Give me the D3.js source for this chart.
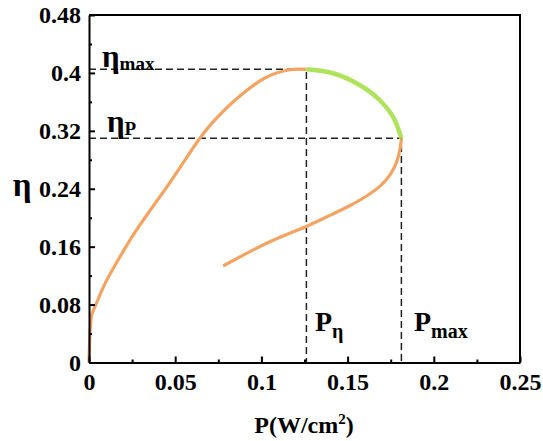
<!DOCTYPE html>
<html>
<head>
<meta charset="utf-8">
<script src="https://cdn.jsdelivr.net/npm/d3@7"></script>
<style>
  body { margin: 0; background: #fff; }
  text { font-family: "Liberation Serif", "Times New Roman", serif; font-weight: bold; }
</style>
</head>
<body>
<div id="chart"></div>
<script>
// efficiency vs power density
const upperP = [0, 0.0003, 0.0009, 0.0017, 0.0031, 0.0093, 0.0170, 0.0267, 0.0363, 0.0459, 0.0566, 0.0643, 0.0711, 0.0865, 0.1020, 0.1155, 0.1261];
const upperEta = [0, 0.024, 0.052, 0.067, 0.075, 0.109, 0.142, 0.180, 0.213, 0.245, 0.283, 0.3097, 0.330, 0.366, 0.393, 0.404, 0.405];
const greenP = [0.1261, 0.1415, 0.1570, 0.1686, 0.1763, 0.1812];
const greenEta = [0.405, 0.3995, 0.3833, 0.3626, 0.3395, 0.3097];
const lowerP = [0.1812, 0.1805, 0.1785, 0.1748, 0.1690, 0.1610, 0.1512, 0.1400, 0.1280, 0.1030, 0.0778];
const lowerEta = [0.3097, 0.296, 0.2775, 0.260, 0.244, 0.230, 0.2165, 0.2035, 0.190, 0.1647, 0.1333];

const etaMax = 0.405, pEta = 0.1261;
const etaP = 0.3097, pMax = 0.1812;

const xTicks = [0, 0.05, 0.1, 0.15, 0.2, 0.25];
const yTicks = [0, 0.08, 0.16, 0.24, 0.32, 0.4, 0.48];

const W = 543, H = 441;
const margin = { top: 15, right: 23, bottom: 78.5, left: 89 };
const width = W - margin.left - margin.right;
const height = H - margin.top - margin.bottom;

const svg = d3.select('#chart').append('svg')
  .attr('width', W).attr('height', H);
const g = svg.append('g').attr('transform', `translate(${margin.left},${margin.top})`);

const x = d3.scaleLinear().domain([0, 0.25]).range([0, width]);
const y = d3.scaleLinear().domain([0, 0.48]).range([height, 0]);

const zip = (a, b) => a.map((v, i) => [v, b[i]]);
const line = d3.line().x(d => x(d[0])).y(d => y(d[1]));
const smooth = d3.line().x(d => x(d[0])).y(d => y(d[1])).curve(d3.curveCatmullRom.alpha(0.5));

// dashed guide lines
const dash = g.append('g').attr('stroke', '#222').attr('stroke-width', 1.5)
  .attr('stroke-dasharray', '7,4').attr('fill', 'none');
dash.append('path').attr('d', line([[0, etaMax], [pEta, etaMax], [pEta, 0]]));
dash.append('path').attr('d', line([[0, etaP], [pMax, etaP], [pMax, 0]]));

// curves
g.append('path').attr('d', smooth(zip(upperP, upperEta)))
  .attr('fill', 'none').attr('stroke', '#f4a462').attr('stroke-width', 3.2).attr('stroke-linejoin', 'round');
g.append('path').attr('d', smooth(zip(lowerP, lowerEta)))
  .attr('fill', 'none').attr('stroke', '#f4a462').attr('stroke-width', 3.2).attr('stroke-linejoin', 'round');
g.append('path').attr('d', smooth(zip(greenP, greenEta)))
  .attr('fill', 'none').attr('stroke', '#b0e35c').attr('stroke-width', 4.5).attr('stroke-linejoin', 'round');

// axes: ticks point inward
const xMinor = d3.range(0.025, 0.25, 0.05);
const yMinor = d3.range(0.04, 0.48, 0.08);

const xAxis = g.append('g').attr('transform', `translate(0,${height})`)
  .call(d3.axisBottom(x).tickValues(xTicks).tickSizeInner(-6).tickSizeOuter(0).tickPadding(10)
    .tickFormat(d => d3.format('~g')(d)));
g.append('g').attr('transform', `translate(0,${height})`)
  .call(d3.axisBottom(x).tickValues(xMinor).tickSizeInner(-3).tickSizeOuter(0).tickFormat(''))
  .select('.domain').remove();

const yAxis = g.append('g')
  .call(d3.axisLeft(y).tickValues(yTicks).tickSizeInner(-6).tickSizeOuter(0).tickPadding(8)
    .tickFormat(d => d3.format('~g')(d)));
g.append('g')
  .call(d3.axisLeft(y).tickValues(yMinor).tickSizeInner(-3).tickSizeOuter(0).tickFormat(''))
  .select('.domain').remove();

g.selectAll('.tick line').attr('stroke', '#000').attr('stroke-width', 2);
g.selectAll('.domain').attr('stroke', '#000').attr('stroke-width', 2);
xAxis.selectAll('text').style('font-size', '24px').attr('fill', '#000');
yAxis.selectAll('text').style('font-size', '24px').attr('fill', '#000');

// top and right frame
g.append('path').attr('d', `M0,0H${width}V${height}`)
  .attr('fill', 'none').attr('stroke', '#000').attr('stroke-width', 2);

// annotation labels
function subLabel(px, py, main, sub, mainSize, subSize, dy) {
  const t = svg.append('text').attr('x', px).attr('y', py).style('font-size', mainSize + 'px');
  t.append('tspan').text(main);
  t.append('tspan').attr('dy', dy).style('font-size', subSize + 'px').text(sub);
}
subLabel(102, 67, 'η', 'max', 31, 19, 3);
subLabel(107, 132, 'η', 'P', 31, 19, 3);
subLabel(315, 331, 'P', 'η', 28, 20, 7);
subLabel(414, 331, 'P', 'max', 28, 20, 7);

// axis titles
svg.append('text').attr('x', 22).attr('y', 196).attr('text-anchor', 'middle')
  .style('font-size', '33px').text('η');
const xt = svg.append('text').attr('x', 304).attr('y', 433).attr('text-anchor', 'middle')
  .style('font-size', '24px');
xt.append('tspan').text('P(W/cm');
xt.append('tspan').attr('dy', -9).style('font-size', '15px').text('2');
xt.append('tspan').attr('dy', 9).text(')');
</script>
</body>
</html>
